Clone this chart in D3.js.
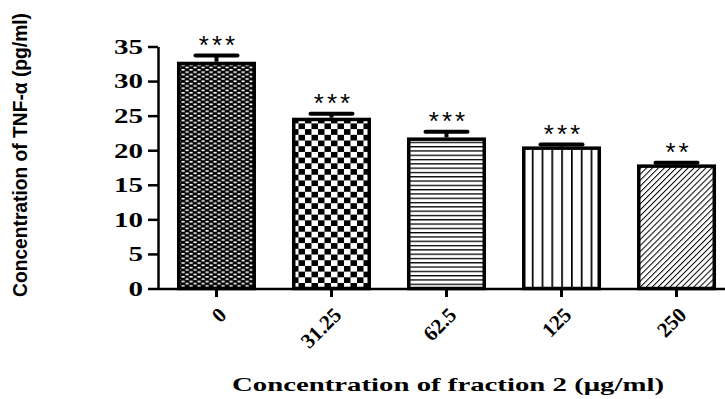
<!DOCTYPE html>
<html><head><meta charset="utf-8">
<script src="https://cdn.jsdelivr.net/npm/d3@7"></script>
<style>body{margin:0;background:#fff}svg{display:block}</style>
</head><body>
<script>
const categories = ["0", "31.25", "62.5", "125", "250"];
const means = [32.8, 24.7, 21.85, 20.55, 17.95];
const errors = [1.1, 0.8, 1.05, 0.5, 0.45];
const stars = ["***", "***", "***", "***", "**"];
const patterns = ["weave", "checker", "hlines", "vlines", "diag"];
const yTicks = [0, 5, 10, 15, 20, 25, 30, 35];
const yTitle = "Concentration of TNF-\u03b1  (pg/ml)";
const xTitle = "Concentration of fraction 2 (\u03bcg/ml)";

const W = 725, H = 399;
const svg = d3.select("body").append("svg").attr("width", W).attr("height", H);
const defs = svg.append("defs");

// patterns
let p = defs.append("pattern").attr("id","weave").attr("patternUnits","userSpaceOnUse").attr("width",8).attr("height",4.6);
p.append("rect").attr("width",8).attr("height",4.6).attr("fill","#000");
p.append("rect").attr("x",0.5).attr("y",0.4).attr("width",3.2).attr("height",1.6).attr("fill","#fff");
p.append("rect").attr("x",4.5).attr("y",2.7).attr("width",3.2).attr("height",1.6).attr("fill","#fff");

p = defs.append("pattern").attr("id","checker").attr("patternUnits","userSpaceOnUse").attr("width",13).attr("height",11.4);
p.append("rect").attr("width",13).attr("height",11.4).attr("fill","#fff");
p.append("rect").attr("x",0).attr("y",0).attr("width",6.5).attr("height",5.7).attr("fill","#000");
p.append("rect").attr("x",6.5).attr("y",5.7).attr("width",6.5).attr("height",5.7).attr("fill","#000");

p = defs.append("pattern").attr("id","hlines").attr("patternUnits","userSpaceOnUse").attr("width",10).attr("height",4.3);
p.append("rect").attr("width",10).attr("height",4.3).attr("fill","#fff");
p.append("rect").attr("x",0).attr("y",0).attr("width",10).attr("height",1.3).attr("fill","#000");

p = defs.append("pattern").attr("id","vlines").attr("patternUnits","userSpaceOnUse").attr("width",9.8).attr("height",10);
p.append("rect").attr("width",9.8).attr("height",10).attr("fill","#fff");
p.append("rect").attr("x",0).attr("y",0).attr("width",1.7).attr("height",10).attr("fill","#000");

p = defs.append("pattern").attr("id","diag").attr("patternUnits","userSpaceOnUse").attr("width",4.2).attr("height",4.2).attr("patternTransform","rotate(-45)");
p.append("rect").attr("width",4.2).attr("height",4.2).attr("fill","#fff");
p.append("rect").attr("x",0).attr("y",0).attr("width",4.2).attr("height",1.0).attr("fill","#000");

const x = d3.scaleBand().domain(categories).range([158, 735]).paddingInner(0.313).paddingOuter(0.165);
const y = d3.scaleLinear().domain([0, 35]).range([288.5, 46.5]);

const data = categories.map((c,i)=>({c, m:means[i], e:errors[i], s:stars[i], p:patterns[i]}));
data.forEach(d=>{ if(d.p!=="diag") d3.select("#"+d.p).attr("x", x(d.c)).attr("y", y(d.m)); });

svg.selectAll("rect.bar").data(data).join("rect").attr("class","bar")
  .attr("x", d=>x(d.c)+1.75).attr("y", d=>y(d.m)+1.75)
  .attr("width", x.bandwidth()-3.5).attr("height", d=>y(0)-y(d.m)-1.75)
  .attr("fill", d=>`url(#${d.p})`).attr("stroke","#000").attr("stroke-width",3.5);

// error bars
const eb = svg.selectAll("g.eb").data(data).join("g").attr("class","eb");
eb.append("line").attr("x1", d=>x(d.c)+x.bandwidth()/2).attr("x2", d=>x(d.c)+x.bandwidth()/2)
  .attr("y1", d=>y(d.m)).attr("y2", d=>y(d.m+d.e)).attr("stroke","#000").attr("stroke-width",4);
eb.append("line").attr("x1", d=>x(d.c)+x.bandwidth()/2-21).attr("x2", d=>x(d.c)+x.bandwidth()/2+21)
  .attr("y1", d=>y(d.m+d.e)+1.5).attr("y2", d=>y(d.m+d.e)+1.5).attr("stroke","#000").attr("stroke-width",4).attr("stroke-linecap","round");

// stars
svg.selectAll("text.star").data(data).join("text").attr("class","star")
  .attr("x", d=>x(d.c)+x.bandwidth()/2+2).attr("y", d=>y(d.m+d.e))
  .attr("text-anchor","middle").attr("font-family","Liberation Sans, Arial, sans-serif")
  .attr("font-size",26).attr("letter-spacing",3).text(d=>d.s);

// y axis
const ya = svg.append("g").attr("transform","translate(158,0)")
  .call(d3.axisLeft(y).tickValues(yTicks).tickSize(10).tickSizeOuter(0).tickPadding(5));
ya.select(".domain").attr("stroke-width",2.5);
ya.selectAll(".tick line").attr("stroke-width",2.5);
ya.selectAll(".tick text").attr("font-family","Liberation Serif, Times New Roman, serif").attr("font-weight","bold")
  .attr("font-size",20).attr("fill","#000")
  .attr("x", null).attr("dy","0.34em").attr("text-anchor","end")
  .attr("transform","translate(-15,0) scale(1.45,1)");

// x axis
const xa = svg.append("g").attr("transform","translate(0,289)")
  .call(d3.axisBottom(x).tickSize(8).tickSizeOuter(0).tickFormat(()=>""));
xa.select(".domain").attr("stroke-width",2.5).attr("d","M158,0H725");
xa.selectAll(".tick line").attr("stroke-width",3);

// rotated x tick labels
svg.selectAll("text.xl").data(categories).join("text").attr("class","xl")
  .attr("text-anchor","end")
  .attr("font-family","Liberation Serif, Times New Roman, serif").attr("font-weight","bold").attr("font-size",21)
  .attr("transform", d=>`translate(${x(d)+x.bandwidth()/2+6},${311}) rotate(-45)`)
  .attr("dy","0.35em")
  .text(d=>d);

// axis titles
svg.append("text").attr("x", 448).attr("y", 391).attr("text-anchor","middle")
  .attr("font-family","Liberation Serif, Times New Roman, serif").attr("font-weight","bold").attr("font-size",19)
  .attr("textLength",432).attr("lengthAdjust","spacingAndGlyphs").text(xTitle);

const yt = svg.append("text").attr("text-anchor","middle")
  .attr("font-family","Liberation Sans, Arial, sans-serif").attr("font-weight","bold").attr("font-size",16)
  .text(yTitle);
const natural = yt.node().getComputedTextLength();
const sx = 284 / natural;
yt.attr("transform", `translate(27,155) rotate(-90) scale(${sx},1.3)`);
</script>
</body></html>
